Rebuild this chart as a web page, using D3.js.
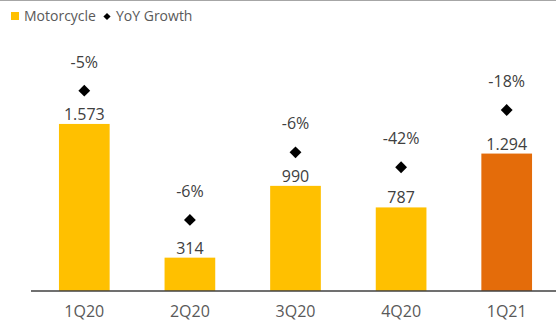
<!DOCTYPE html>
<html>
<head>
<meta charset="utf-8">
<script src="https://cdn.jsdelivr.net/npm/d3@7"></script>
<style>
  body { margin: 0; background: #fff; }
  svg { display: block; font-family: "Open Sans", sans-serif; }
</style>
</head>
<body>
<div id="wrapper"></div>
<script>
const quarters = ["1Q20", "2Q20", "3Q20", "4Q20", "1Q21"];
const motorcycle = [1573, 314, 990, 787, 1294];
const valueLabels = ["1.573", "314", "990", "787", "1.294"];
const yoyGrowth = ["-5%", "-6%", "-6%", "-42%", "-18%"];
// marker heights as plotted (same units as the bars)
const yoyMarker = [1886, 669, 1306, 1165, 1704];
const barColors = ["#FFC000", "#FFC000", "#FFC000", "#FFC000", "#E46C0A"];

function drawChart() {
  const width = 556;
  const height = 327;
  const baseline = 291;

  const svg = d3
    .select("#wrapper")
    .append("svg")
    .attr("width", width)
    .attr("height", height);

  // thin grey border at the very top
  svg
    .append("line")
    .attr("x1", 0)
    .attr("x2", width)
    .attr("y1", 0.5)
    .attr("y2", 0.5)
    .attr("stroke", "#a6a6a6")
    .attr("stroke-width", 1);

  const x = d3
    .scaleBand()
    .domain(quarters)
    .range([31.5, 559.5])
    .paddingInner(0.52)
    .paddingOuter(0.26);

  const y = d3.scaleLinear().domain([0, 2740]).range([baseline, 0]);

  // bars
  svg
    .append("g")
    .selectAll("rect")
    .data(motorcycle)
    .join("rect")
    .attr("x", (d, i) => x(quarters[i]))
    .attr("y", (d) => y(d))
    .attr("width", x.bandwidth())
    .attr("height", (d) => baseline - y(d))
    .attr("fill", (d, i) => barColors[i]);

  // value labels
  svg
    .append("g")
    .selectAll("text")
    .data(motorcycle)
    .join("text")
    .attr("x", (d, i) => x(quarters[i]) + x.bandwidth() / 2)
    .attr("y", (d) => y(d) - 4)
    .attr("text-anchor", "middle")
    .attr("font-size", 16)
    .attr("fill", "#404040")
    .text((d, i) => valueLabels[i]);

  // yoy diamonds
  const diamond = d3.symbol().type(d3.symbolSquare).size(70);
  svg
    .append("g")
    .selectAll("path")
    .data(yoyMarker)
    .join("path")
    .attr("d", diamond)
    .attr(
      "transform",
      (d, i) =>
        `translate(${x(quarters[i]) + x.bandwidth() / 2}, ${y(d)}) rotate(45)`
    )
    .attr("fill", "#000");

  svg
    .append("g")
    .selectAll("text")
    .data(yoyMarker)
    .join("text")
    .attr("x", (d, i) => x(quarters[i]) + x.bandwidth() / 2)
    .attr("y", (d) => y(d) - 23)
    .attr("text-anchor", "middle")
    .attr("font-size", 16)
    .attr("fill", "#404040")
    .text((d, i) => yoyGrowth[i]);

  // x axis
  const xAxis = svg
    .append("g")
    .attr("transform", `translate(0, ${baseline})`)
    .call(d3.axisBottom(x).tickSize(0).tickPadding(15));
  xAxis.select(".domain").remove();
  xAxis
    .append("line")
    .attr("x1", 31)
    .attr("x2", width)
    .attr("stroke", "#404040")
    .attr("stroke-width", 1.5);
  xAxis
    .selectAll(".tick text")
    .attr("font-family", "Open Sans, sans-serif")
    .attr("font-size", 16)
    .attr("fill", "#595959");

  // legend
  const legend = svg.append("g").attr("transform", "translate(11, 12)");
  legend
    .append("rect")
    .attr("width", 8)
    .attr("height", 8)
    .attr("fill", "#FFC000");
  legend
    .append("text")
    .attr("x", 13)
    .attr("y", 9)
    .attr("font-size", 14)
    .attr("fill", "#595959")
    .text("Motorcycle");
  legend
    .append("path")
    .attr("d", d3.symbol().type(d3.symbolSquare).size(26))
    .attr("transform", "translate(96, 4.5) rotate(45)")
    .attr("fill", "#000");
  legend
    .append("text")
    .attr("x", 105)
    .attr("y", 9)
    .attr("font-size", 14)
    .attr("fill", "#595959")
    .text("YoY Growth");
}

drawChart();
</script>
</body>
</html>
